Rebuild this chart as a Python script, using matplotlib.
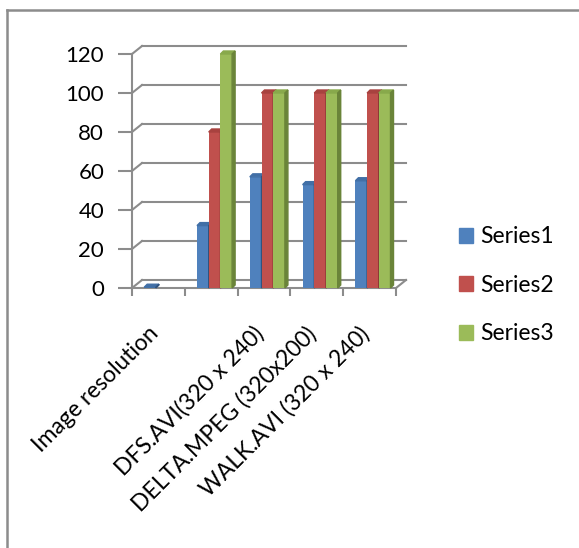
import numpy as np
import matplotlib.pyplot as plt
from matplotlib.patches import Polygon, Patch
from matplotlib.lines import Line2D
from matplotlib.transforms import offset_copy

plt.rcParams['font.family'] = ['Lato', 'DejaVu Sans']

categories = ['Image resolution', '', 'DFS.AVI(320 x 240)',
              'DELTA.MPEG (320x200)', 'WALK.AVI (320 x 240)']
series_names = ['Series1', 'Series2', 'Series3']
series1 = [0.4, 32, 57, 53, 55]
series2 = [np.nan, 80, 100, 100, 100]
series3 = [np.nan, 120, 100, 100, 100]
yticks = [0, 20, 40, 60, 80, 100, 120]

front = ['#4F81BD', '#C0504D', '#9BBB59']
top = ['#416FA6', '#A8423F', '#88A94B']
side = ['#30537F', '#8A3634', '#6A8439']
grid = '#8C8C8C'

W, H = 579, 548
fig = plt.figure(figsize=(W / 100, H / 100), dpi=100)
ax = fig.add_axes([132 / W, (H - 288) / H, 264 / W, 234 / H])
ax.set_xlim(0, len(categories))
ax.set_ylim(0, 120)

# pixels per data unit
ppx = 264 / len(categories)
ppy = 234 / 120

for s in ['top', 'right']:
    ax.spines[s].set_visible(False)
for s in ['left', 'bottom']:
    ax.spines[s].set_color(grid)
    ax.spines[s].set_linewidth(1.5)

ax.set_yticks(yticks)
ax.tick_params(axis='y', length=10, width=1.5, color=grid, pad=10, labelsize=16)
ax.set_xticks(range(len(categories) + 1))
ax.set_xticklabels([])
ax.tick_params(axis='x', length=6, width=1.5, color=grid)

# back wall / side wall gridlines
dx, dy = 10 / ppx, 8 / ppy
n = len(categories)
for v in yticks:
    ax.plot([dx, n + dx], [v + dy, v + dy], color=grid, lw=1.5, clip_on=False, zorder=1)
    ax.plot([0, dx], [v, v + dy], color=grid, lw=1.5, clip_on=False, zorder=1)
ax.plot([n, n + dx], [0, dy], color=grid, lw=1.5, clip_on=False, zorder=1)

# 3d-ish bars
w = 11.7 / ppx
tdx, tdy = 3 / ppx, 3 / ppy
x = np.arange(n) + 0.5
for i, vals in enumerate([series1, series2, series3]):
    xs = x - 0.158 + i * w
    for xc, h in zip(xs, vals):
        if np.isnan(h):
            continue
        x0 = xc - w / 2
        x1 = xc + w / 2
        ax.bar(xc, h, width=w, color=front[i], zorder=3, clip_on=False)
        ax.add_patch(Polygon([(x0, h), (x1, h), (x1 + tdx, h + tdy), (x0 + tdx, h + tdy)],
                             closed=True, color=top[i], zorder=3, clip_on=False))
        ax.add_patch(Polygon([(x1, 0), (x1 + tdx, tdy), (x1 + tdx, h + tdy), (x1, h)],
                             closed=True, color=side[i], zorder=3, clip_on=False))

# category labels
lab_tr = offset_copy(ax.transData, fig=fig, x=-11, y=-35, units='dots')
for xc, lab in zip(x, categories):
    ax.text(xc, 0, lab, transform=lab_tr, rotation=45, rotation_mode='anchor',
            ha='right', va='top', fontsize=16.5)

handles = [Patch(color=c) for c in front]
fig.legend(handles, series_names, loc='upper left',
           bbox_to_anchor=(450 / W, 1 - 217 / H), frameon=False, fontsize=16.5,
           handlelength=0.62, handleheight=0.62, handletextpad=0.3,
           labelspacing=1.2, borderaxespad=0)

# outer frame (left and top edges)
fig.add_artist(Line2D([7 / W, 7 / W], [0, 1 - 10 / H], color=grid, lw=1.8))
fig.add_artist(Line2D([7 / W, 1], [1 - 10 / H, 1 - 10 / H], color=grid, lw=1.8))

fig.savefig('out.png', dpi=100)
